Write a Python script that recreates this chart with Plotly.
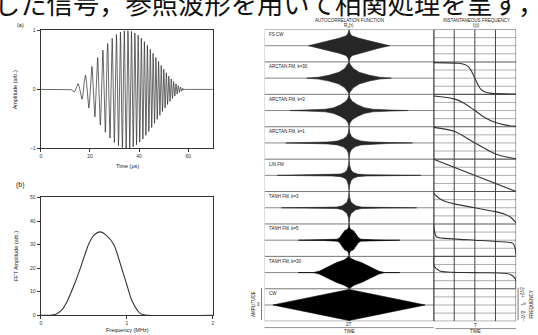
import numpy as np
import plotly.graph_objects as go

W, H = 538, 335

# ---------------- data ----------------
header_text = "した信号，参照波形を用いて相関処理を呈す，"

# panel (a): chirp parameters
chirp_t_start = 10.0     # us, envelope start
chirp_t_end = 60.0       # us, envelope end
chirp_f_start = 0.20     # MHz at start
chirp_f_end = 1.15       # MHz at end
a_xticks = [0, 20, 40, 60]
a_yticks = [-1, 0, 1]

# panel (b): FFT amplitude
fft_freq = [0, 0.10, 0.17, 0.25, 0.31, 0.40, 0.46, 0.56, 0.62, 0.69, 0.76, 0.85, 0.94, 1.00, 1.06, 1.16, 1.25, 2.0]
fft_amp = [0, 0, 0.3, 2.5, 6.2, 14, 20, 30.5, 34, 35.4, 34, 29.9, 20, 13, 6.2, 0.7, 0, 0]
b_xticks = [0, 1, 2]
b_yticks = [0, 10, 20, 30, 40, 50]

# right panel: autocorrelation envelopes (dx in column half-widths, amplitude in row heights)
row_labels = ["FS CW", "ARCTAN FM, k=30", "ARCTAN FM, k=3", "ARCTAN FM, k=1", "LIN FM",
              "TANH FM, k=3", "TANH FM, k=5", "TANH FM, k=30", "CW"]
ac_dx = [
    [0, 0.015, 0.04, 0.12, 0.24, 0.36, 0.48],
    [0, 0.015, 0.05, 0.12, 0.24, 0.36, 0.50],
    [0, 0.012, 0.04, 0.10, 0.18, 0.28, 0.50, 0.70],
    [0, 0.010, 0.03, 0.07, 0.14, 0.25, 0.50, 0.75],
    [0, 0.008, 0.025, 0.05, 0.10, 0.20, 0.50, 0.85],
    [0, 0.008, 0.025, 0.05, 0.08, 0.15, 0.40, 0.80],
    [0, 0.006, 0.02, 0.05, 0.08, 0.11, 0.14, 0.30, 0.60],
    [0, 0.01, 0.059, 0.153, 0.27, 0.353, 0.424, 0.60],
    [0, 0.90],
]
ac_amp = [
    [0.50, 0.36, 0.30, 0.23, 0.15, 0.07, 0.0],
    [0.50, 0.42, 0.30, 0.18, 0.09, 0.03, 0.0],
    [0.50, 0.38, 0.28, 0.18, 0.09, 0.04, 0.015, 0.0],
    [0.50, 0.30, 0.20, 0.12, 0.06, 0.03, 0.012, 0.0],
    [0.50, 0.30, 0.16, 0.09, 0.04, 0.02, 0.01, 0.0],
    [0.50, 0.30, 0.17, 0.12, 0.06, 0.02, 0.01, 0.0],
    [0.50, 0.40, 0.33, 0.30, 0.20, 0.08, 0.03, 0.01, 0.0],
    [0.50, 0.46, 0.39, 0.30, 0.15, 0.045, 0.0, 0.0],
    [0.48, 0.0],
]
ac_solid = [False, False, False, False, False, False, True, True, True]

# instantaneous frequency curves (x in grid divisions 0..4, y = fraction down the row)
if_x = [
    None,
    [0, 1.2, 1.5, 1.7, 1.85, 2.0, 2.15, 2.3, 2.5, 2.8, 4],
    [0, 1.0, 1.5, 2.0, 2.5, 3.0, 3.5, 4],
    [0, 1.0, 2.0, 3.0, 4],
    [0, 4],
    [0, 0.25, 0.55, 1.0, 2.0, 3.0, 3.45, 3.75, 4],
    [0, 0.05, 0.15, 1.0, 2.0, 3.0, 3.85, 3.95, 4],
    [0, 0.03, 0.3, 2.0, 3.7, 3.97, 4],
    None,
]
if_y = [
    None,
    [0.02, 0.04, 0.08, 0.15, 0.30, 0.50, 0.70, 0.85, 0.93, 0.97, 0.99],
    [0.05, 0.14, 0.28, 0.50, 0.72, 0.87, 0.95, 0.99],
    [0.02, 0.14, 0.50, 0.84, 0.99],
    [0.0, 1.0],
    [0.05, 0.20, 0.30, 0.38, 0.50, 0.62, 0.70, 0.80, 0.97],
    [0.02, 0.25, 0.40, 0.46, 0.50, 0.54, 0.60, 0.75, 0.98],
    [0.02, 0.30, 0.45, 0.50, 0.55, 0.70, 0.98],
    None,
]

# ---------------- helpers ----------------
def X(px):
    return px / W

def Y(py):
    return 1 - py / H

fig = go.Figure()
FONT = "Liberation Sans"

def txt(s, px, py, size, angle=0, xanchor="center", yanchor="middle", color="#222", family=FONT):
    fig.add_annotation(x=X(px), y=Y(py), xref="paper", yref="paper", text=s, showarrow=False,
                       font=dict(size=size, color=color, family=family), xanchor=xanchor,
                       yanchor=yanchor, textangle=angle, borderpad=0)

# ---------------- panel (a) ----------------
t = np.arange(0, 70.001, 0.01)
k = (chirp_f_end - chirp_f_start) / (chirp_t_end - chirp_t_start)
tau = t - chirp_t_start
inside = (t >= chirp_t_start) & (t <= chirp_t_end)
env = np.where(inside, np.sin(np.pi * tau / (chirp_t_end - chirp_t_start)) ** 2, 0.0)
sig = env * np.sin(2 * np.pi * (chirp_f_start * tau + 0.5 * k * tau ** 2))
fig.add_trace(go.Scatter(x=t, y=sig, mode="lines", line=dict(color="#2a2a2a", width=0.7),
                         xaxis="x", yaxis="y", hoverinfo="skip"))

# ---------------- panel (b) ----------------
fig.add_trace(go.Scatter(x=fft_freq, y=fft_amp, mode="lines", line=dict(color="#333", width=1.1, shape="spline", smoothing=0.7),
                         xaxis="x2", yaxis="y2", hoverinfo="skip"))

# ---------------- autocorrelation column ----------------
for i, (dx, amp) in enumerate(zip(ac_dx, ac_amp)):
    c = 9 - i - 0.5
    dx = np.array(dx)
    amp = np.array(amp)
    xs = np.concatenate([-dx[::-1], dx[1:]])
    up = np.concatenate([amp[::-1], amp[1:]])
    px_ = np.concatenate([xs, xs[::-1]])
    py_ = np.concatenate([c + up, (c - up)[::-1]])
    col = "#000" if ac_solid[i] else "#262626"
    fig.add_trace(go.Scatter(x=px_, y=py_, mode="lines", fill="toself", fillcolor=col,
                             line=dict(color=col, width=0.6), xaxis="x3", yaxis="y3", hoverinfo="skip"))

# ---------------- instantaneous frequency column ----------------
for i in range(9):
    if if_x[i] is None:
        continue
    top = 9 - i
    ys = [top - f for f in if_y[i]]
    fig.add_trace(go.Scatter(x=if_x[i], y=ys, mode="lines",
                             line=dict(color="#333", width=1.1, shape="spline", smoothing=0.8),
                             xaxis="x4", yaxis="y4", hoverinfo="skip"))

# ---------------- layout ----------------
def dom_x(a, b):
    return [X(a), X(b)]

def dom_y(top, bottom):
    return [Y(bottom), Y(top)]

axcommon = dict(showgrid=False, zeroline=False, showline=True, mirror=True, linecolor="#333",
                linewidth=1.3, ticks="outside", ticklen=3, tickwidth=0.8, tickcolor="#333",
                tickfont=dict(size=5, family=FONT, color="#333"))
hidden = dict(showgrid=False, zeroline=False, showline=False, showticklabels=False, ticks="")

fig.update_layout(
    width=W, height=H, margin=dict(l=0, r=0, t=0, b=0), showlegend=False,
    paper_bgcolor="white", plot_bgcolor="white",
    xaxis=dict(domain=dom_x(40, 213), range=[0, 70], tickvals=a_xticks, anchor="y", **axcommon),
    yaxis=dict(domain=dom_y(28, 148), range=[-1, 1], tickvals=a_yticks, anchor="x", **axcommon),
    xaxis2=dict(domain=dom_x(40, 213), range=[0, 2], tickvals=b_xticks, anchor="y2", **axcommon),
    yaxis2=dict(domain=dom_y(198, 318), range=[0, 50], tickvals=b_yticks, anchor="x2", **axcommon),
    xaxis3=dict(domain=dom_x(265, 435), range=[-1, 1], anchor="y3", **hidden),
    yaxis3=dict(domain=dom_y(27, 324), range=[0, 9], anchor="x3", **hidden),
    xaxis4=dict(domain=dom_x(435, 518), range=[0, 4], anchor="y4", **hidden),
    yaxis4=dict(domain=dom_y(27, 324), range=[0, 9], anchor="x4", **hidden),
)

shapes = []
# autocorrelation grid lines
for r in range(10):
    shapes.append(dict(type="line", xref="x3", yref="y3", x0=-1, x1=1, y0=r, y1=r,
                       line=dict(color="#777", width=1), layer="below"))
for r in range(9):
    shapes.append(dict(type="line", xref="x3", yref="y3", x0=-1, x1=1, y0=r + 0.5, y1=r + 0.5,
                       line=dict(color="#888", width=1), layer="below"))
shapes.append(dict(type="line", xref="x3", yref="y3", x0=-1, x1=-1, y0=0, y1=9,
                   line=dict(color="#aaa", width=0.8)))
# instantaneous frequency grid
for q in range(37):
    yv = q / 4
    major = (q % 4 == 0)
    shapes.append(dict(type="line", xref="x4", yref="y4", x0=0, x1=4, y0=yv, y1=yv,
                       line=dict(color="#555" if major else "#9a9a9a", width=1.1 if major else 0.8), layer="below"))
for v in range(5):
    shapes.append(dict(type="line", xref="x4", yref="y4", x0=v, x1=v, y0=0, y1=9,
                       line=dict(color="#444", width=1.0), layer="below"))
shapes.append(dict(type="line", xref="x4", yref="y4", x0=0, x1=0, y0=0, y1=9,
                   line=dict(color="#111", width=1.6)))
# bottom axes lines and side brackets
shapes.append(dict(type="line", xref="paper", yref="paper", x0=X(265), x1=X(435), y0=Y(330.5), y1=Y(330.5),
                   line=dict(color="#777", width=0.8)))
shapes.append(dict(type="line", xref="paper", yref="paper", x0=X(437), x1=X(518), y0=Y(331.5), y1=Y(331.5),
                   line=dict(color="#777", width=0.8)))
shapes.append(dict(type="line", xref="paper", yref="paper", x0=X(262), x1=X(262), y0=Y(290), y1=Y(323),
                   line=dict(color="#555", width=0.8)))
shapes.append(dict(type="line", xref="paper", yref="paper", x0=X(520), x1=X(520), y0=Y(290), y1=Y(323),
                   line=dict(color="#555", width=0.8)))
fig.update_layout(shapes=shapes)

# ---------------- texts ----------------
txt(header_text, 269, -1, 26.3, family="Noto Sans CJK JP", color="#111")
txt("(a)", 20, 22, 5.5)
txt("(b)", 20, 185, 7)
txt("Amplitude (arb.)", 15, 88, 5.5, angle=-90)
txt("Time (μs)", 127, 166, 5.5)
txt("FFT Amplitude (arb.)", 15, 258, 5.5, angle=-90)
txt("Frequency (MHz)", 127, 333, 5.5)

txt("AUTOCORRELATION FUNCTION", 350, 17.5, 4.5)
txt("R<sub>s</sub>(τ)", 350, 23, 4.5)
txt("INSTANTANEOUS FREQUENCY", 478, 17.5, 4.5)
txt("f<sub>i</sub>(t)", 478, 23, 4.5)
for i, lab in enumerate(row_labels):
    txt(lab, 268, 27 + 33 * i + 5, 4.5, xanchor="left")
txt("AMPLITUDE", 254, 307, 4.5, angle=-90)
txt("0", 259, 307, 4.5)
txt("2T", 350, 327, 4.5)
txt("TIME", 350, 334, 4.5)
txt("T", 477, 328, 4.5)
txt("TIME", 477, 334.5, 4.5)
txt("+Δf/2", 525, 295, 4.5, angle=-90)
txt("f<sub>0</sub>", 525, 307, 4.5, angle=-90)
txt("−Δf/2", 525, 319, 4.5, angle=-90)
txt("FREQUENCY", 533, 307, 4.5, angle=-90)

fig.write_html("out.html")
